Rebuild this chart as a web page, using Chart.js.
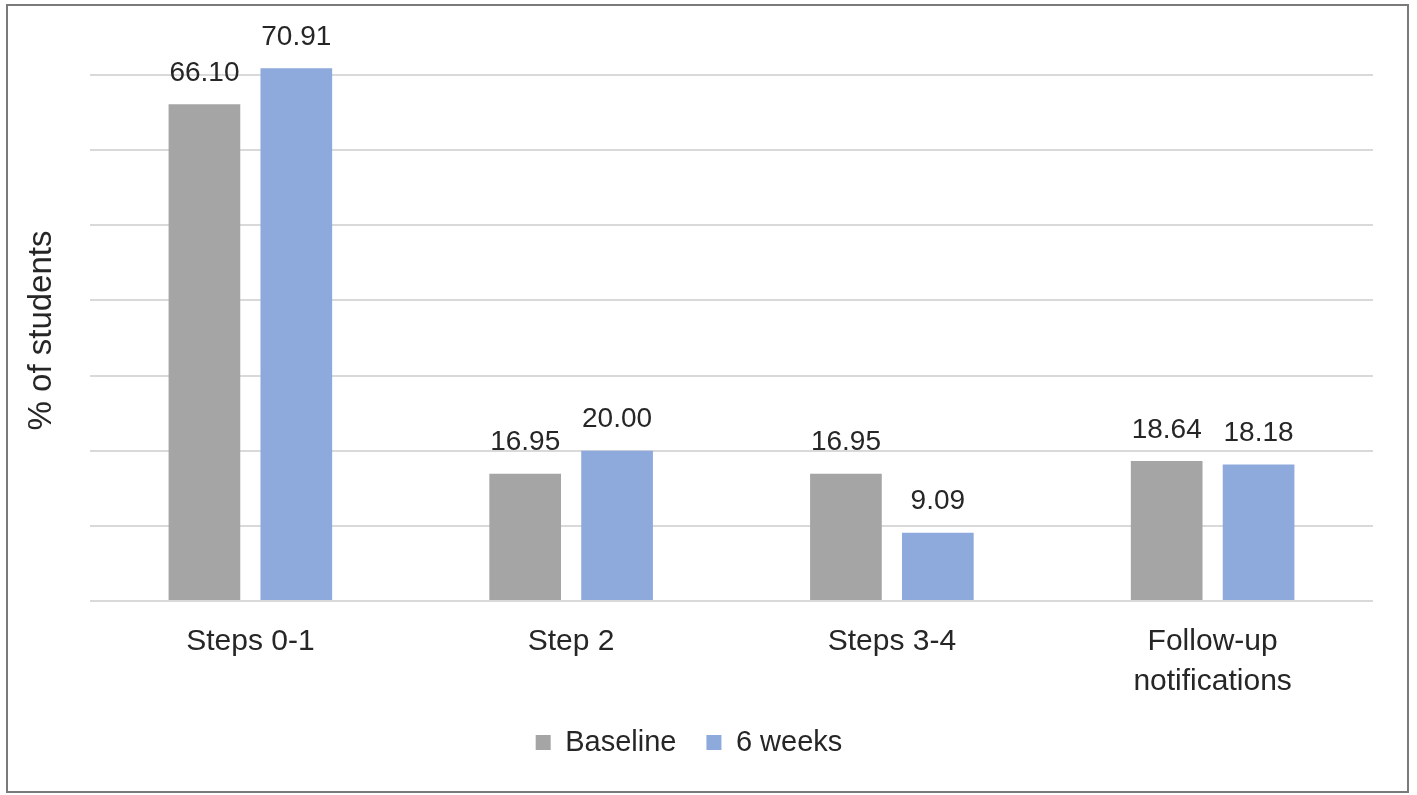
<!DOCTYPE html>
<html>
<head>
<meta charset="utf-8">
<script src="https://cdn.jsdelivr.net/npm/chart.js@4.4.0/dist/chart.umd.min.js"></script>
<style>
  html, body { margin: 0; padding: 0; background: #ffffff; }
  #wrap { width: 1417px; height: 795px; position: relative; }
</style>
</head>
<body>
<div id="wrap"><canvas id="c"></canvas></div>
<script>
const categories = ["Steps 0-1", "Step 2", "Steps 3-4", ["Follow-up", "notifications"]];
const seriesNames = ["Baseline", "6 weeks"];
const baselineValues = [66.10, 16.95, 16.95, 18.64];
const sixWeeksValues = [70.91, 20.00, 9.09, 18.18];
const yAxisTitle = "% of students";

const FONT = "'Liberation Sans', Arial, sans-serif";
const TEXT = "#262626";

const framePlugin = {
  id: 'frame',
  afterDraw(chart) {
    const ctx = chart.ctx;
    ctx.save();
    ctx.strokeStyle = '#7a7a7a';
    ctx.lineWidth = 2;
    ctx.strokeRect(7, 5, 1401, 787);
    ctx.restore();
  }
};

const labelPlugin = {
  id: 'valueLabels',
  afterDatasetsDraw(chart) {
    const ctx = chart.ctx;
    ctx.save();
    ctx.font = "28px " + FONT;
    ctx.fillStyle = TEXT;
    ctx.textAlign = 'center';
    ctx.textBaseline = 'middle';
    chart.data.datasets.forEach((ds, di) => {
      const meta = chart.getDatasetMeta(di);
      meta.data.forEach((bar, i) => {
        ctx.fillText(ds.data[i].toFixed(2), bar.x, bar.y - 31);
      });
    });
    ctx.restore();
  }
};

new Chart(document.getElementById('c'), {
  type: 'bar',
  data: {
    labels: categories,
    datasets: [
      { label: seriesNames[0], data: baselineValues, backgroundColor: '#A5A5A5', borderWidth: 0,
        categoryPercentage: 0.573, barPercentage: 0.78 },
      { label: seriesNames[1], data: sixWeeksValues, backgroundColor: '#8EA9DB', borderWidth: 0,
        categoryPercentage: 0.573, barPercentage: 0.78 }
    ]
  },
  options: {
    responsive: true,
    maintainAspectRatio: false,
    animation: false,
    layout: { padding: { left: 5, right: 44, top: 60, bottom: 28 } },
    plugins: {
      legend: {
        position: 'bottom',
        labels: {
          boxWidth: 15, boxHeight: 15, padding: 30,
          color: TEXT,
          font: { family: FONT, size: 29 }
        }
      },
      tooltip: { enabled: false }
    },
    scales: {
      x: {
        grid: { display: false, drawTicks: false },
        border: { display: false },
        ticks: {
          color: TEXT, padding: 21, maxRotation: 0, autoSkip: false,
          font: { family: FONT, size: 30, lineHeight: 1.333 }
        },
        afterFit(scale) { scale.height = 97; }
      },
      y: {
        min: 0, max: 72,
        grid: { color: '#D9D9D9', lineWidth: 2, drawTicks: false },
        border: { display: false },
        ticks: { display: false, stepSize: 10, includeBounds: false },
        title: {
          display: true, text: yAxisTitle, color: TEXT,
          font: { family: FONT, size: 33, lineHeight: 1.2 },
          padding: { top: 17, bottom: 28.4 }
        }
      }
    }
  },
  plugins: [framePlugin, labelPlugin]
});
</script>
</body>
</html>
